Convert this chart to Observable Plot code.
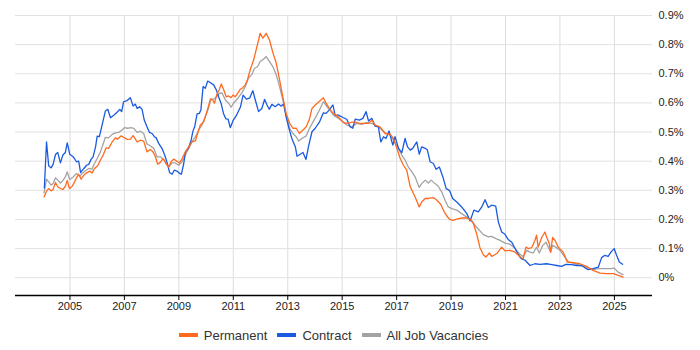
<!DOCTYPE html>
<html>
<head>
<meta charset="utf-8">
<script src="https://cdn.jsdelivr.net/npm/d3@7"></script>
<script src="https://cdn.jsdelivr.net/npm/@observablehq/plot@0.6"></script>
<style>
  html, body { margin: 0; padding: 0; background: #fff; }
  body { width: 700px; height: 350px; overflow: hidden; font-family: "Liberation Sans", Arial, sans-serif; }
  #legend { display: flex; align-items: center; height: 20px; margin-top: 7px; width: 637px; margin-left: 15px; justify-content: center; font-size: 13px; color: #333; }
  .item { display: flex; align-items: center; margin: 0 5px; }
  .sw { width: 19px; height: 4px; margin-right: 6px; }
</style>
</head>
<body>
<div id="chart"></div>
<div id="legend"></div>
<script>
const seriesNames = ["Permanent", "Contract", "All Job Vacancies"];
const seriesColors = ["#ff6a1f", "#1a5ae0", "#a3a3a3"];
const yTicks = [0, 0.1, 0.2, 0.3, 0.4, 0.5, 0.6, 0.7, 0.8, 0.9];
const xTickYears = [2005, 2007, 2009, 2011, 2013, 2015, 2017, 2019, 2021, 2023, 2025];

// [decimal year, % of vacancies]
const permanent = [[2004.05,0.277],[2004.14,0.297],[2004.22,0.306],[2004.31,0.298],[2004.38,0.303],[2004.47,0.327],[2004.55,0.312],[2004.65,0.306],[2004.75,0.303],[2004.83,0.314],[2004.90,0.334],[2004.98,0.306],[2005.08,0.314],[2005.17,0.329],[2005.24,0.343],[2005.32,0.355],[2005.41,0.338],[2005.51,0.352],[2005.61,0.360],[2005.73,0.366],[2005.81,0.359],[2005.90,0.375],[2006.02,0.384],[2006.12,0.404],[2006.22,0.421],[2006.33,0.446],[2006.42,0.444],[2006.55,0.466],[2006.67,0.480],[2006.75,0.475],[2006.88,0.487],[2006.97,0.482],[2007.10,0.475],[2007.22,0.476],[2007.32,0.488],[2007.47,0.466],[2007.59,0.472],[2007.71,0.469],[2007.83,0.432],[2007.95,0.440],[2008.05,0.432],[2008.14,0.415],[2008.22,0.390],[2008.32,0.396],[2008.42,0.409],[2008.53,0.392],[2008.63,0.380],[2008.71,0.398],[2008.81,0.407],[2008.93,0.400],[2009.02,0.394],[2009.12,0.409],[2009.24,0.432],[2009.36,0.449],[2009.48,0.466],[2009.61,0.470],[2009.69,0.495],[2009.79,0.524],[2009.91,0.535],[2010.03,0.570],[2010.16,0.613],[2010.24,0.610],[2010.31,0.599],[2010.40,0.630],[2010.49,0.647],[2010.56,0.665],[2010.64,0.647],[2010.74,0.621],[2010.83,0.624],[2010.92,0.618],[2010.99,0.627],[2011.07,0.621],[2011.16,0.633],[2011.26,0.647],[2011.32,0.650],[2011.44,0.662],[2011.52,0.679],[2011.62,0.713],[2011.75,0.748],[2011.87,0.793],[2011.99,0.839],[2012.09,0.822],[2012.21,0.839],[2012.33,0.816],[2012.46,0.771],[2012.58,0.736],[2012.70,0.679],[2012.82,0.621],[2012.94,0.564],[2013.07,0.530],[2013.19,0.513],[2013.31,0.513],[2013.43,0.495],[2013.56,0.507],[2013.68,0.518],[2013.80,0.545],[2013.89,0.581],[2014.01,0.593],[2014.17,0.606],[2014.31,0.618],[2014.41,0.599],[2014.56,0.576],[2014.68,0.564],[2014.86,0.552],[2015.05,0.532],[2015.17,0.530],[2015.29,0.532],[2015.44,0.535],[2015.63,0.530],[2015.78,0.530],[2015.97,0.530],[2016.09,0.541],[2016.21,0.524],[2016.39,0.518],[2016.58,0.495],[2016.76,0.493],[2016.88,0.478],[2017.01,0.444],[2017.13,0.409],[2017.25,0.386],[2017.37,0.369],[2017.50,0.312],[2017.68,0.277],[2017.83,0.243],[2017.92,0.260],[2018.05,0.272],[2018.17,0.272],[2018.35,0.275],[2018.48,0.266],[2018.62,0.252],[2018.74,0.228],[2018.86,0.210],[2018.96,0.200],[2019.06,0.197],[2019.21,0.201],[2019.39,0.205],[2019.58,0.205],[2019.70,0.200],[2019.82,0.186],[2019.94,0.151],[2020.06,0.104],[2020.19,0.078],[2020.28,0.071],[2020.41,0.085],[2020.49,0.073],[2020.68,0.083],[2020.86,0.105],[2020.98,0.092],[2021.17,0.094],[2021.35,0.088],[2021.53,0.072],[2021.65,0.065],[2021.75,0.105],[2021.84,0.100],[2021.96,0.103],[2022.08,0.128],[2022.14,0.146],[2022.20,0.105],[2022.33,0.138],[2022.45,0.157],[2022.51,0.140],[2022.61,0.117],[2022.66,0.088],[2022.73,0.138],[2022.82,0.128],[2022.94,0.105],[2023.12,0.088],[2023.27,0.054],[2023.49,0.052],[2023.73,0.048],[2023.98,0.039],[2024.22,0.025],[2024.47,0.016],[2024.71,0.014],[2024.96,0.014],[2025.14,0.008],[2025.32,0.002]];

const contract = [[2004.06,0.308],[2004.14,0.466],[2004.22,0.384],[2004.31,0.377],[2004.38,0.389],[2004.47,0.423],[2004.55,0.430],[2004.65,0.394],[2004.74,0.421],[2004.83,0.430],[2004.90,0.463],[2004.99,0.424],[2005.12,0.415],[2005.24,0.398],[2005.32,0.400],[2005.39,0.361],[2005.51,0.375],[2005.61,0.386],[2005.69,0.389],[2005.78,0.407],[2005.85,0.415],[2005.94,0.449],[2006.00,0.486],[2006.08,0.484],[2006.18,0.524],[2006.30,0.572],[2006.39,0.578],[2006.49,0.549],[2006.61,0.558],[2006.73,0.568],[2006.83,0.578],[2006.90,0.570],[2006.97,0.604],[2007.10,0.608],[2007.22,0.618],[2007.32,0.589],[2007.40,0.596],[2007.47,0.581],[2007.56,0.587],[2007.65,0.578],[2007.73,0.541],[2007.83,0.518],[2007.92,0.499],[2008.02,0.495],[2008.10,0.484],[2008.17,0.480],[2008.26,0.461],[2008.38,0.444],[2008.48,0.421],[2008.57,0.394],[2008.66,0.361],[2008.75,0.355],[2008.83,0.369],[2008.93,0.366],[2009.03,0.358],[2009.09,0.355],[2009.18,0.392],[2009.24,0.432],[2009.36,0.446],[2009.45,0.472],[2009.52,0.504],[2009.58,0.518],[2009.67,0.562],[2009.75,0.564],[2009.81,0.576],[2009.89,0.656],[2009.97,0.650],[2010.06,0.675],[2010.16,0.669],[2010.28,0.662],[2010.38,0.644],[2010.46,0.621],[2010.55,0.599],[2010.64,0.564],[2010.73,0.545],[2010.81,0.544],[2010.89,0.515],[2010.99,0.539],[2011.11,0.556],[2011.26,0.585],[2011.36,0.627],[2011.48,0.613],[2011.60,0.616],[2011.72,0.642],[2011.81,0.610],[2011.93,0.570],[2012.05,0.581],[2012.15,0.612],[2012.24,0.593],[2012.32,0.578],[2012.42,0.595],[2012.54,0.587],[2012.66,0.596],[2012.75,0.589],[2012.85,0.596],[2012.94,0.552],[2013.03,0.518],[2013.15,0.478],[2013.28,0.449],[2013.34,0.417],[2013.46,0.424],[2013.56,0.430],[2013.67,0.406],[2013.76,0.449],[2013.89,0.501],[2014.01,0.513],[2014.17,0.535],[2014.31,0.566],[2014.41,0.564],[2014.53,0.576],[2014.66,0.593],[2014.74,0.558],[2014.86,0.558],[2015.03,0.550],[2015.17,0.544],[2015.29,0.518],[2015.39,0.513],[2015.48,0.544],[2015.63,0.541],[2015.76,0.547],[2015.88,0.570],[2015.97,0.538],[2016.09,0.547],[2016.21,0.520],[2016.33,0.518],[2016.42,0.466],[2016.52,0.484],[2016.61,0.478],[2016.72,0.504],[2016.80,0.475],[2016.86,0.455],[2016.94,0.484],[2017.07,0.444],[2017.19,0.429],[2017.31,0.478],[2017.40,0.449],[2017.50,0.438],[2017.59,0.444],[2017.74,0.466],[2017.83,0.424],[2017.92,0.449],[2018.05,0.444],[2018.13,0.438],[2018.23,0.398],[2018.35,0.392],[2018.45,0.372],[2018.57,0.380],[2018.70,0.346],[2018.82,0.306],[2018.94,0.300],[2019.06,0.272],[2019.21,0.260],[2019.39,0.243],[2019.58,0.220],[2019.70,0.195],[2019.84,0.232],[2020.00,0.226],[2020.13,0.243],[2020.25,0.268],[2020.37,0.241],[2020.49,0.249],[2020.64,0.246],[2020.74,0.190],[2020.86,0.157],[2020.98,0.149],[2021.10,0.131],[2021.23,0.122],[2021.41,0.090],[2021.53,0.071],[2021.59,0.065],[2021.72,0.060],[2021.90,0.042],[2022.08,0.048],[2022.27,0.046],[2022.51,0.048],[2022.70,0.045],[2022.88,0.042],[2023.06,0.039],[2023.22,0.046],[2023.43,0.045],[2023.61,0.042],[2023.80,0.042],[2023.92,0.034],[2024.04,0.028],[2024.22,0.031],[2024.41,0.036],[2024.53,0.069],[2024.65,0.077],[2024.77,0.073],[2024.87,0.088],[2024.99,0.100],[2025.08,0.077],[2025.18,0.054],[2025.30,0.046]];

const allJobs = [[2004.05,0.291],[2004.14,0.338],[2004.22,0.329],[2004.31,0.318],[2004.38,0.323],[2004.47,0.343],[2004.55,0.335],[2004.65,0.325],[2004.75,0.335],[2004.83,0.346],[2004.90,0.363],[2004.99,0.337],[2005.12,0.346],[2005.24,0.358],[2005.36,0.348],[2005.45,0.358],[2005.57,0.367],[2005.69,0.375],[2005.81,0.373],[2005.90,0.392],[2006.00,0.409],[2006.12,0.432],[2006.22,0.459],[2006.30,0.482],[2006.42,0.480],[2006.55,0.492],[2006.67,0.497],[2006.79,0.499],[2006.92,0.507],[2007.00,0.515],[2007.12,0.513],[2007.25,0.515],[2007.34,0.513],[2007.47,0.499],[2007.59,0.503],[2007.71,0.495],[2007.83,0.459],[2007.95,0.453],[2008.08,0.444],[2008.20,0.415],[2008.32,0.415],[2008.44,0.406],[2008.57,0.386],[2008.66,0.383],[2008.75,0.394],[2008.87,0.394],[2008.99,0.386],[2009.12,0.398],[2009.24,0.421],[2009.36,0.444],[2009.48,0.466],[2009.61,0.484],[2009.73,0.507],[2009.85,0.524],[2009.97,0.552],[2010.09,0.581],[2010.18,0.614],[2010.28,0.613],[2010.38,0.621],[2010.49,0.633],[2010.59,0.634],[2010.71,0.610],[2010.83,0.599],[2010.92,0.585],[2011.01,0.599],[2011.16,0.615],[2011.32,0.635],[2011.44,0.656],[2011.56,0.685],[2011.69,0.699],[2011.78,0.719],[2011.89,0.724],[2011.99,0.742],[2012.11,0.750],[2012.21,0.759],[2012.33,0.742],[2012.46,0.724],[2012.58,0.696],[2012.70,0.656],[2012.82,0.610],[2012.94,0.558],[2013.07,0.513],[2013.19,0.495],[2013.31,0.484],[2013.40,0.469],[2013.52,0.478],[2013.68,0.487],[2013.80,0.513],[2013.93,0.535],[2014.07,0.558],[2014.19,0.581],[2014.31,0.604],[2014.44,0.587],[2014.56,0.574],[2014.68,0.558],[2014.86,0.547],[2015.03,0.535],[2015.17,0.524],[2015.36,0.518],[2015.54,0.530],[2015.72,0.526],[2015.91,0.532],[2016.09,0.530],[2016.21,0.524],[2016.39,0.513],[2016.58,0.497],[2016.76,0.490],[2016.88,0.472],[2017.03,0.449],[2017.19,0.421],[2017.31,0.404],[2017.43,0.380],[2017.56,0.363],[2017.68,0.346],[2017.83,0.310],[2017.92,0.323],[2018.05,0.335],[2018.17,0.325],[2018.27,0.335],[2018.41,0.323],[2018.53,0.314],[2018.66,0.294],[2018.78,0.266],[2018.90,0.243],[2019.03,0.237],[2019.21,0.232],[2019.39,0.220],[2019.58,0.208],[2019.76,0.197],[2019.88,0.180],[2020.04,0.163],[2020.19,0.148],[2020.37,0.140],[2020.49,0.142],[2020.65,0.134],[2020.80,0.128],[2020.98,0.119],[2021.17,0.115],[2021.35,0.100],[2021.53,0.080],[2021.65,0.073],[2021.78,0.094],[2021.90,0.088],[2022.02,0.085],[2022.14,0.105],[2022.24,0.085],[2022.37,0.111],[2022.49,0.122],[2022.57,0.105],[2022.66,0.088],[2022.73,0.111],[2022.85,0.105],[2023.00,0.094],[2023.18,0.071],[2023.31,0.054],[2023.49,0.050],[2023.73,0.042],[2023.98,0.036],[2024.22,0.028],[2024.41,0.031],[2024.65,0.031],[2024.87,0.031],[2024.99,0.033],[2025.14,0.019],[2025.32,0.010]];

function decYear(y) {
  const yr = Math.floor(y);
  const a = Date.UTC(yr, 0, 1), b = Date.UTC(yr + 1, 0, 1);
  return new Date(a + (y - yr) * (b - a));
}

const rows = [];
[permanent, contract, allJobs].forEach((arr, i) => {
  arr.forEach(([t, v]) => rows.push({series: seriesNames[i], date: decYear(t), value: v}));
});

const xTicks = xTickYears.map(y => decYear(y));
const yMin = -0.061;

const chart = Plot.plot({
  width: 700,
  height: 318,
  marginLeft: 15,
  marginRight: 48,
  marginTop: 15,
  marginBottom: 23,
  style: {fontFamily: "'Liberation Sans', Arial, sans-serif", fontSize: "11px", color: "#333"},
  x: {type: "utc", domain: [decYear(2003.0), decYear(2026.4)]},
  y: {domain: [yMin, 0.9]},
  color: {domain: seriesNames, range: seriesColors},
  marks: [
    Plot.ruleX(xTicks, {stroke: "#dcdcdc", strokeWidth: 1}),
    Plot.ruleY(yTicks, {stroke: "#e2e2e2", strokeWidth: 1}),
    Plot.line(rows.filter(d => d.series === "All Job Vacancies"), {x: "date", y: "value", stroke: "series", strokeWidth: 1.3}),
    Plot.line(rows.filter(d => d.series === "Contract"), {x: "date", y: "value", stroke: "series", strokeWidth: 1.3}),
    Plot.line(rows.filter(d => d.series === "Permanent"), {x: "date", y: "value", stroke: "series", strokeWidth: 1.3}),
    Plot.ruleY([yMin], {stroke: "#000", strokeWidth: 1.5}),
    Plot.axisX({ticks: xTicks, tickFormat: "%Y", tickSize: 5, tickPadding: 2, label: null, fill: "#222", stroke: "#000"}),
    Plot.axisY({anchor: "right", ticks: yTicks, tickFormat: d => (Math.round(d * 10) / 10) + "%", tickSize: 0, tickPadding: 6, label: null, fill: "#222"})
  ]
});
document.getElementById("chart").appendChild(chart);

const legend = document.getElementById("legend");
seriesNames.forEach((n, i) => {
  const it = document.createElement("div");
  it.className = "item";
  const sw = document.createElement("span");
  sw.className = "sw";
  sw.style.background = seriesColors[i];
  const tx = document.createElement("span");
  tx.textContent = n;
  it.appendChild(sw);
  it.appendChild(tx);
  legend.appendChild(it);
});
</script>
</body>
</html>
